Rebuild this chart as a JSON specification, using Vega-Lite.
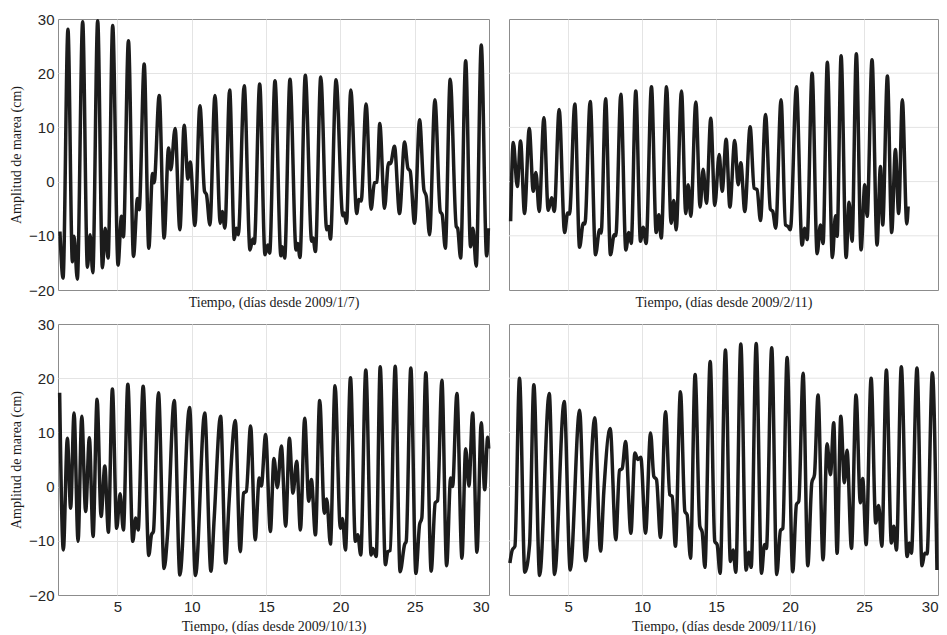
{
  "$schema": "https://vega.github.io/schema/vega-lite/v6.json",
  "background": "white",
  "padding": {"left": 9, "top": 11, "right": 5, "bottom": 0},
  "columns": 2,
  "spacing": {"row": 34, "column": 20},
  "bounds": "flush",
  "datasets": {
    "grid": [{"g": -10}, {"g": 0}, {"g": 10}, {"g": 20}],
    "p1": [
      {"d":1.13,"v":-9.2},{"d":1.34,"v":-17.8},{"d":1.67,"v":28.1},{"d":1.97,"v":-14.8},{"d":2.08,"v":-10.1},{"d":2.30,"v":-18.0},{"d":2.66,"v":29.5},{"d":2.98,"v":-15.8},{"d":3.16,"v":-9.8},{"d":3.34,"v":-16.8},{"d":3.67,"v":29.7},{"d":3.99,"v":-15.9},{"d":4.17,"v":-8.6},{"d":4.37,"v":-14.1},{"d":4.68,"v":28.8},{"d":5.04,"v":-15.4},{"d":5.27,"v":-6.4},{"d":5.40,"v":-10.2},{"d":5.74,"v":26.0},{"d":6.08,"v":-13.8},{"d":6.35,"v":-3.1},{"d":6.46,"v":-5.2},{"d":6.80,"v":21.7},{"d":7.11,"v":-12.3},{"d":7.36,"v":1.5},{"d":7.47,"v":-0.2},{"d":7.81,"v":15.9},{"d":8.14,"v":-10.4},{"d":8.44,"v":6.2},{"d":8.59,"v":2.2},{"d":8.88,"v":9.8},{"d":9.20,"v":-8.9},{"d":9.49,"v":10.4},{"d":9.74,"v":0.5},{"d":9.90,"v":3.6},{"d":10.21,"v":-8.1},{"d":10.55,"v":14.0},{"d":10.86,"v":-1.8},{"d":10.99,"v":-2.4},{"d":11.22,"v":-8.0},{"d":11.56,"v":15.9},{"d":11.92,"v":-7.7},{"d":12.05,"v":-5.5},{"d":12.23,"v":-8.6},{"d":12.55,"v":16.9},{"d":12.86,"v":-10.7},{"d":12.99,"v":-8.6},{"d":13.13,"v":-9.8},{"d":13.53,"v":17.7},{"d":13.92,"v":-12.6},{"d":14.10,"v":-10.6},{"d":14.21,"v":-11.4},{"d":14.57,"v":18.0},{"d":14.93,"v":-13.5},{"d":15.11,"v":-11.7},{"d":15.24,"v":-13.2},{"d":15.60,"v":18.6},{"d":16.00,"v":-13.7},{"d":16.09,"v":-12.0},{"d":16.25,"v":-14.1},{"d":16.61,"v":18.9},{"d":17.02,"v":-12.6},{"d":17.13,"v":-11.4},{"d":17.28,"v":-14.0},{"d":17.64,"v":19.6},{"d":18.07,"v":-11.0},{"d":18.16,"v":-10.4},{"d":18.32,"v":-12.9},{"d":18.68,"v":19.3},{"d":19.08,"v":-8.9},{"d":19.22,"v":-8.3},{"d":19.33,"v":-10.6},{"d":19.71,"v":18.8},{"d":20.16,"v":-6.3},{"d":20.27,"v":-5.8},{"d":20.41,"v":-7.7},{"d":20.70,"v":16.9},{"d":21.10,"v":-5.9},{"d":21.24,"v":-3.3},{"d":21.40,"v":-3.6},{"d":21.73,"v":14.3},{"d":22.07,"v":-5.1},{"d":22.29,"v":-0.2},{"d":22.47,"v":-0.1},{"d":22.65,"v":10.7},{"d":22.97,"v":-4.9},{"d":23.24,"v":3.5},{"d":23.37,"v":3.3},{"d":23.64,"v":6.5},{"d":23.98,"v":-5.9},{"d":24.32,"v":7.3},{"d":24.54,"v":2.5},{"d":24.70,"v":1.9},{"d":24.99,"v":-7.7},{"d":25.33,"v":11.4},{"d":25.62,"v":-1.5},{"d":25.78,"v":-2.7},{"d":26.00,"v":-9.8},{"d":26.36,"v":15.1},{"d":26.72,"v":-5.5},{"d":26.85,"v":-6.1},{"d":27.06,"v":-12.3},{"d":27.39,"v":18.9},{"d":27.80,"v":-8.3},{"d":27.89,"v":-8.6},{"d":28.09,"v":-14.1},{"d":28.43,"v":22.3},{"d":28.76,"v":-12.0},{"d":28.92,"v":-8.6},{"d":29.14,"v":-15.6},{"d":29.48,"v":25.2},{"d":29.84,"v":-13.7},{"d":29.96,"v":-8.6}
    ],
    "p2": [
      {"d":1.11,"v":-7.3},{"d":1.29,"v":7.2},{"d":1.56,"v":-0.9},{"d":1.78,"v":7.5},{"d":2.05,"v":-5.9},{"d":2.37,"v":9.8},{"d":2.64,"v":-1.8},{"d":2.82,"v":1.7},{"d":3.04,"v":-5.5},{"d":3.36,"v":11.8},{"d":3.65,"v":-5.3},{"d":3.88,"v":-3.0},{"d":4.06,"v":-5.5},{"d":4.39,"v":13.3},{"d":4.76,"v":-9.4},{"d":4.96,"v":-5.8},{"d":5.09,"v":-6.0},{"d":5.45,"v":14.3},{"d":5.77,"v":-12.1},{"d":6.02,"v":-7.7},{"d":6.13,"v":-7.8},{"d":6.49,"v":14.8},{"d":6.85,"v":-13.5},{"d":7.12,"v":-8.9},{"d":7.23,"v":-9.5},{"d":7.53,"v":15.3},{"d":7.86,"v":-13.5},{"d":8.11,"v":-9.8},{"d":8.22,"v":-10.0},{"d":8.56,"v":16.1},{"d":8.90,"v":-12.6},{"d":9.10,"v":-9.4},{"d":9.26,"v":-11.4},{"d":9.57,"v":16.7},{"d":9.89,"v":-11.0},{"d":10.07,"v":-8.4},{"d":10.27,"v":-11.4},{"d":10.63,"v":17.5},{"d":10.95,"v":-9.4},{"d":11.13,"v":-6.1},{"d":11.29,"v":-10.4},{"d":11.65,"v":17.5},{"d":11.96,"v":-7.7},{"d":12.14,"v":-3.5},{"d":12.30,"v":-8.9},{"d":12.66,"v":16.7},{"d":12.95,"v":-5.9},{"d":13.11,"v":-0.6},{"d":13.29,"v":-6.4},{"d":13.63,"v":14.7},{"d":13.92,"v":-4.7},{"d":14.12,"v":2.3},{"d":14.35,"v":-4.0},{"d":14.64,"v":11.7},{"d":14.91,"v":-4.4},{"d":15.21,"v":5.0},{"d":15.41,"v":-1.8},{"d":15.68,"v":7.8},{"d":15.93,"v":-4.7},{"d":16.26,"v":7.6},{"d":16.49,"v":-0.6},{"d":16.67,"v":3.5},{"d":16.94,"v":-5.5},{"d":17.30,"v":10.1},{"d":17.57,"v":-1.2},{"d":17.77,"v":-1.5},{"d":18.00,"v":-7.2},{"d":18.34,"v":12.4},{"d":18.67,"v":-5.1},{"d":18.83,"v":-5.5},{"d":19.03,"v":-8.6},{"d":19.39,"v":15.1},{"d":19.69,"v":-8.0},{"d":19.87,"v":-8.3},{"d":20.02,"v":-8.9},{"d":20.43,"v":17.5},{"d":20.81,"v":-11.7},{"d":20.99,"v":-8.6},{"d":21.15,"v":-10.7},{"d":21.49,"v":20.0},{"d":21.83,"v":-13.3},{"d":22.05,"v":-8.0},{"d":22.23,"v":-11.4},{"d":22.52,"v":22.0},{"d":22.86,"v":-14.0},{"d":23.07,"v":-6.3},{"d":23.18,"v":-10.1},{"d":23.45,"v":23.2},{"d":23.79,"v":-14.0},{"d":23.99,"v":-3.8},{"d":24.19,"v":-11.0},{"d":24.48,"v":23.6},{"d":24.80,"v":-12.6},{"d":25.05,"v":-0.6},{"d":25.21,"v":-6.4},{"d":25.54,"v":22.5},{"d":25.88,"v":-11.7},{"d":26.11,"v":2.8},{"d":26.26,"v":-8.0},{"d":26.58,"v":19.5},{"d":26.87,"v":-9.4},{"d":27.12,"v":5.9},{"d":27.34,"v":-5.9},{"d":27.59,"v":15.1},{"d":27.89,"v":-7.8},{"d":27.98,"v":-4.6}
    ],
    "p3": [
      {"d":1.11,"v":17.3},{"d":1.36,"v":-11.7},{"d":1.63,"v":8.9},{"d":1.85,"v":-4.0},{"d":2.08,"v":13.6},{"d":2.35,"v":-10.1},{"d":2.60,"v":13.0},{"d":2.86,"v":-4.6},{"d":3.11,"v":9.0},{"d":3.36,"v":-9.2},{"d":3.63,"v":16.1},{"d":3.90,"v":-5.5},{"d":4.15,"v":3.8},{"d":4.39,"v":-8.4},{"d":4.66,"v":18.0},{"d":4.95,"v":-7.7},{"d":5.18,"v":-1.3},{"d":5.40,"v":-8.0},{"d":5.70,"v":18.9},{"d":6.03,"v":-10.1},{"d":6.23,"v":-5.8},{"d":6.39,"v":-8.0},{"d":6.73,"v":18.5},{"d":7.11,"v":-12.7},{"d":7.29,"v":-8.9},{"d":7.42,"v":-8.3},{"d":7.76,"v":17.3},{"d":8.14,"v":-15.1},{"d":8.37,"v":-8.8},{"d":8.82,"v":15.9},{"d":9.20,"v":-16.3},{"d":9.85,"v":14.6},{"d":10.25,"v":-16.4},{"d":10.87,"v":13.6},{"d":11.29,"v":-15.6},{"d":11.51,"v":-5.8},{"d":11.94,"v":13.0},{"d":12.28,"v":-14.1},{"d":12.50,"v":-3.3},{"d":12.93,"v":12.2},{"d":13.26,"v":-12.0},{"d":13.49,"v":-1.2},{"d":13.67,"v":-0.9},{"d":13.96,"v":11.2},{"d":14.27,"v":-9.8},{"d":14.54,"v":1.6},{"d":14.68,"v":0.1},{"d":14.97,"v":9.6},{"d":15.29,"v":-8.3},{"d":15.53,"v":5.2},{"d":15.76,"v":-0.2},{"d":16.03,"v":7.5},{"d":16.32,"v":-7.3},{"d":16.57,"v":8.9},{"d":16.81,"v":-1.2},{"d":17.06,"v":4.7},{"d":17.31,"v":-8.0},{"d":17.60,"v":12.6},{"d":17.87,"v":-2.7},{"d":18.05,"v":1.3},{"d":18.32,"v":-8.9},{"d":18.61,"v":15.9},{"d":18.92,"v":-4.9},{"d":19.08,"v":-2.3},{"d":19.33,"v":-10.6},{"d":19.64,"v":18.6},{"d":20.00,"v":-7.7},{"d":20.14,"v":-5.9},{"d":20.34,"v":-11.7},{"d":20.68,"v":20.1},{"d":21.01,"v":-10.1},{"d":21.17,"v":-8.9},{"d":21.37,"v":-12.6},{"d":21.71,"v":21.5},{"d":22.07,"v":-12.6},{"d":22.18,"v":-11.4},{"d":22.41,"v":-12.9},{"d":22.68,"v":22.1},{"d":23.03,"v":-14.4},{"d":23.19,"v":-12.0},{"d":23.35,"v":-11.8},{"d":23.69,"v":22.2},{"d":24.02,"v":-15.7},{"d":24.32,"v":-10.7},{"d":24.43,"v":-10.1},{"d":24.74,"v":21.9},{"d":25.08,"v":-16.0},{"d":25.33,"v":-7.0},{"d":25.48,"v":-5.8},{"d":25.75,"v":21.0},{"d":26.11,"v":-15.6},{"d":26.38,"v":-3.0},{"d":26.54,"v":-2.6},{"d":26.83,"v":19.6},{"d":27.15,"v":-14.6},{"d":27.42,"v":1.6},{"d":27.55,"v":0.0},{"d":27.84,"v":17.2},{"d":28.18,"v":-13.2},{"d":28.43,"v":7.0},{"d":28.65,"v":0.1},{"d":28.90,"v":13.6},{"d":29.19,"v":-12.1},{"d":29.48,"v":11.8},{"d":29.71,"v":-0.6},{"d":29.91,"v":9.1},{"d":29.98,"v":7.0}
    ],
    "p4": [
      {"d":1.06,"v":-14.1},{"d":1.22,"v":-11.7},{"d":1.40,"v":-11.0},{"d":1.71,"v":20.0},{"d":2.07,"v":-15.8},{"d":2.39,"v":-10.7},{"d":2.68,"v":18.8},{"d":3.07,"v":-16.4},{"d":3.72,"v":17.2},{"d":4.08,"v":-16.2},{"d":4.73,"v":15.7},{"d":5.14,"v":-15.4},{"d":5.77,"v":14.1},{"d":6.17,"v":-13.7},{"d":6.80,"v":12.7},{"d":7.19,"v":-11.9},{"d":7.41,"v":-0.9},{"d":7.84,"v":10.7},{"d":8.22,"v":-9.8},{"d":8.47,"v":3.0},{"d":8.65,"v":3.3},{"d":8.88,"v":8.3},{"d":9.24,"v":-8.6},{"d":9.51,"v":6.2},{"d":9.71,"v":5.0},{"d":9.91,"v":5.4},{"d":10.23,"v":-8.6},{"d":10.57,"v":9.9},{"d":10.79,"v":1.9},{"d":10.97,"v":1.3},{"d":11.24,"v":-9.4},{"d":11.58,"v":13.8},{"d":11.87,"v":-1.5},{"d":12.03,"v":-1.8},{"d":12.25,"v":-11.0},{"d":12.59,"v":17.5},{"d":12.89,"v":-4.6},{"d":13.04,"v":-5.2},{"d":13.27,"v":-13.2},{"d":13.58,"v":20.7},{"d":13.90,"v":-7.3},{"d":14.06,"v":-8.4},{"d":14.24,"v":-14.9},{"d":14.60,"v":23.1},{"d":14.91,"v":-10.1},{"d":15.07,"v":-10.7},{"d":15.27,"v":-16.0},{"d":15.63,"v":25.2},{"d":15.97,"v":-13.8},{"d":16.15,"v":-11.7},{"d":16.33,"v":-15.8},{"d":16.67,"v":26.3},{"d":17.03,"v":-15.4},{"d":17.21,"v":-12.1},{"d":17.37,"v":-14.9},{"d":17.71,"v":26.4},{"d":18.07,"v":-16.0},{"d":18.27,"v":-10.7},{"d":18.40,"v":-11.4},{"d":18.76,"v":25.6},{"d":19.10,"v":-16.2},{"d":19.35,"v":-8.1},{"d":19.51,"v":-7.7},{"d":19.80,"v":23.8},{"d":20.18,"v":-15.7},{"d":20.43,"v":-3.3},{"d":20.59,"v":-2.7},{"d":20.88,"v":20.9},{"d":21.20,"v":-14.6},{"d":21.47,"v":0.7},{"d":21.65,"v":2.2},{"d":21.89,"v":16.9},{"d":22.23,"v":-13.5},{"d":22.50,"v":7.9},{"d":22.73,"v":2.2},{"d":22.95,"v":11.8},{"d":23.18,"v":-12.3},{"d":23.43,"v":13.0},{"d":23.67,"v":0.7},{"d":23.85,"v":6.7},{"d":24.15,"v":-11.4},{"d":24.46,"v":16.9},{"d":24.75,"v":-3.0},{"d":24.91,"v":1.5},{"d":25.14,"v":-10.7},{"d":25.48,"v":20.0},{"d":25.79,"v":-6.7},{"d":25.99,"v":-3.5},{"d":26.20,"v":-11.0},{"d":26.51,"v":21.5},{"d":26.85,"v":-10.4},{"d":27.01,"v":-7.3},{"d":27.19,"v":-11.7},{"d":27.52,"v":22.1},{"d":27.91,"v":-12.9},{"d":28.07,"v":-10.4},{"d":28.20,"v":-12.3},{"d":28.58,"v":21.9},{"d":28.92,"v":-14.6},{"d":29.10,"v":-12.3},{"d":29.26,"v":-12.4},{"d":29.62,"v":21.0},{"d":29.93,"v":-15.4}
    ]
  },
  "concat": [
    {
      "width": 431, "height": 271,
      "data": {"name": "p1"},
      "mark": {"type": "line", "interpolate": "monotone", "color": "#1c1c1c", "strokeWidth": 3.5},
      "encoding": {
        "x": {"field": "d", "type": "quantitative", "scale": {"domain": [1, 30], "nice": false, "zero": false}, "axis": {"values": [5, 10, 15, 20, 25], "labels": false, "title": "Tiempo, (días desde 2009/1/7)"}},
        "y": {"field": "v", "type": "quantitative", "scale": {"domain": [-20, 30], "nice": false}, "axis": {"values": [-20, -10, 0, 10, 20, 30], "gridColor": {"condition": {"test": "datum.value === 30 || datum.value === -20", "value": "rgba(0,0,0,0)"}, "value": "#e4e4e4"}, "title": "Amplitud de marea (cm)"}}
      }
    },
    {
      "width": 429, "height": 271,
      "layer": [
        {
          "data": {"name": "grid"},
          "mark": {"type": "rule", "color": "#e4e4e4", "strokeWidth": 1},
          "encoding": {"y": {"field": "g", "type": "quantitative", "scale": {"domain": [-20, 30], "nice": false}, "axis": null}}
        },
        {
          "data": {"name": "p2"},
          "mark": {"type": "line", "interpolate": "monotone", "color": "#1c1c1c", "strokeWidth": 3.5},
          "encoding": {
            "x": {"field": "d", "type": "quantitative", "scale": {"domain": [1, 30], "nice": false, "zero": false}, "axis": {"values": [5, 10, 15, 20, 25], "labels": false, "title": "Tiempo, (días desde 2009/2/11)"}},
            "y": {"field": "v", "type": "quantitative", "scale": {"domain": [-20, 30], "nice": false}, "axis": null}
          }
        }
      ]
    },
    {
      "width": 431, "height": 271,
      "data": {"name": "p3"},
      "mark": {"type": "line", "interpolate": "monotone", "color": "#1c1c1c", "strokeWidth": 3.5},
      "encoding": {
        "x": {"field": "d", "type": "quantitative", "scale": {"domain": [1, 30], "nice": false, "zero": false}, "axis": {"values": [5, 10, 15, 20, 25, 30], "gridColor": {"condition": {"test": "datum.value === 30", "value": "rgba(0,0,0,0)"}, "value": "#e4e4e4"}, "title": "Tiempo, (días desde 2009/10/13)"}},
        "y": {"field": "v", "type": "quantitative", "scale": {"domain": [-20, 30], "nice": false}, "axis": {"values": [-20, -10, 0, 10, 20, 30], "gridColor": {"condition": {"test": "datum.value === 30 || datum.value === -20", "value": "rgba(0,0,0,0)"}, "value": "#e4e4e4"}, "title": "Amplitud de marea (cm)"}}
      }
    },
    {
      "width": 429, "height": 271,
      "layer": [
        {
          "data": {"name": "grid"},
          "mark": {"type": "rule", "color": "#e4e4e4", "strokeWidth": 1},
          "encoding": {"y": {"field": "g", "type": "quantitative", "scale": {"domain": [-20, 30], "nice": false}, "axis": null}}
        },
        {
          "data": {"name": "p4"},
          "mark": {"type": "line", "interpolate": "monotone", "color": "#1c1c1c", "strokeWidth": 3.5},
          "encoding": {
            "x": {"field": "d", "type": "quantitative", "scale": {"domain": [1, 30], "nice": false, "zero": false}, "axis": {"values": [5, 10, 15, 20, 25, 30], "gridColor": {"condition": {"test": "datum.value === 30", "value": "rgba(0,0,0,0)"}, "value": "#e4e4e4"}, "title": "Tiempo, (días desde 2009/11/16)"}},
            "y": {"field": "v", "type": "quantitative", "scale": {"domain": [-20, 30], "nice": false}, "axis": null}
          }
        }
      ]
    }
  ],
  "config": {
    "view": {"stroke": "#8c8c8c", "strokeWidth": 1},
    "axis": {
      "domain": false,
      "ticks": false,
      "gridColor": "#e4e4e4",
      "gridWidth": 1,
      "labelFont": "Liberation Sans",
      "labelFontSize": 15,
      "labelColor": "#262626",
      "labelPadding": 4,
      "titleFont": "Liberation Serif",
      "titleFontSize": 14,
      "titleFontWeight": "normal",
      "titleColor": "#1a1a1a",
      "titlePadding": 5
    }
  }
}
